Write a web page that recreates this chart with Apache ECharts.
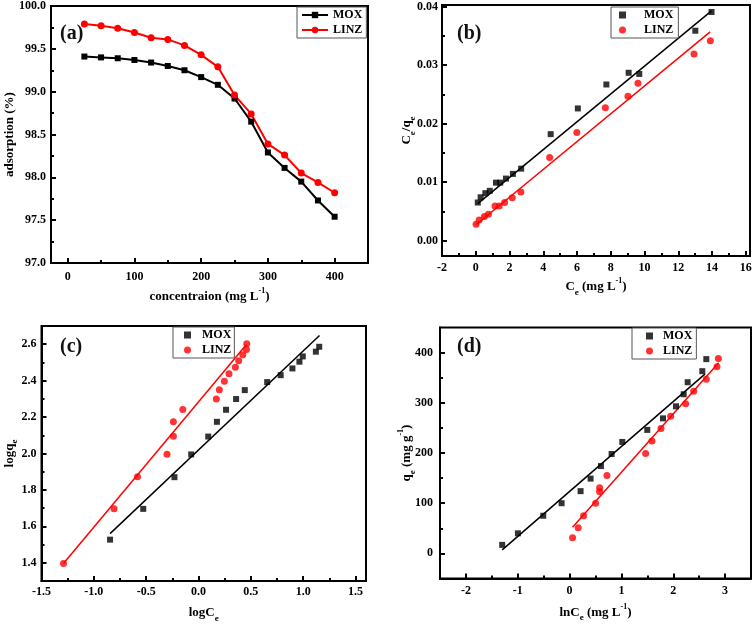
<!DOCTYPE html>
<html><head><meta charset="utf-8">
<script src="https://cdn.jsdelivr.net/npm/echarts@6/dist/echarts.min.js"></script>
<style>html,body{margin:0;padding:0;background:#fff}#c{width:756px;height:626px}</style>
</head><body><div id="c"></div>
<script>
// ---------- Panel (a): adsorption vs concentration ----------
const concA = [25, 50, 75, 100, 125, 150, 175, 200, 225, 250, 275, 300, 325, 350, 375, 400];
const moxAdsA = [99.41, 99.40, 99.39, 99.37, 99.34, 99.30, 99.25, 99.17, 99.08, 98.92, 98.65, 98.29, 98.11, 97.95, 97.73, 97.54];
const linzAdsA = [99.79, 99.77, 99.74, 99.69, 99.63, 99.61, 99.54, 99.43, 99.29, 98.96, 98.74, 98.39, 98.26, 98.05, 97.94, 97.82];

// ---------- Panel (b): Ce/qe vs Ce ----------
const ceMoxB = [0.12, 0.29, 0.57, 0.83, 1.20, 1.45, 1.79, 2.20, 2.69, 4.44, 6.05, 7.74, 9.06, 9.69, 13.01, 13.97];
const ceqeMoxB = [0.0065, 0.0074, 0.0081, 0.0085, 0.0099, 0.0099, 0.0106, 0.0114, 0.0123, 0.0182, 0.0226, 0.0267, 0.0287, 0.0285, 0.0359, 0.0391];
const ceLinzB = [0.02, 0.20, 0.51, 0.75, 1.14, 1.39, 1.71, 2.16, 2.67, 4.38, 5.99, 7.68, 9.02, 9.61, 12.93, 13.90];
const ceqeLinzB = [0.0028, 0.0035, 0.0041, 0.0045, 0.0059, 0.0059, 0.0065, 0.0073, 0.0083, 0.0142, 0.0185, 0.0227, 0.0247, 0.0269, 0.0319, 0.0342];
const fitMoxBx = [0.12, 13.97];
const fitMoxBy = [0.0063, 0.0393];
const fitLinzBx = [0.02, 13.89];
const fitLinzBy = [0.0027, 0.0357];

// ---------- Panel (c): logqe vs logCe ----------
const logCeMoxC = [-0.845, -0.528, -0.230, -0.070, 0.093, 0.176, 0.263, 0.359, 0.442, 0.656, 0.785, 0.897, 0.964, 0.996, 1.121, 1.153];
const logqeMoxC = [1.527, 1.696, 1.870, 1.995, 2.093, 2.174, 2.240, 2.299, 2.348, 2.392, 2.430, 2.467, 2.504, 2.533, 2.559, 2.586];
const logCeLinzC = [-1.290, -0.807, -0.583, -0.301, -0.240, -0.240, -0.150, 0.170, 0.199, 0.247, 0.291, 0.352, 0.384, 0.423, 0.458, 0.461];
const logqeLinzC = [1.396, 1.696, 1.872, 1.996, 2.095, 2.174, 2.242, 2.299, 2.350, 2.396, 2.438, 2.474, 2.509, 2.542, 2.571, 2.603];
const fitMoxCx = [-0.845, 1.156];
const fitMoxCy = [1.560, 2.648];
const fitLinzCx = [-1.290, 0.458];
const fitLinzCy = [1.396, 2.599];

// ---------- Panel (d): qe vs lnCe ----------
const lnCeMoxD = [-1.300, -0.997, -0.508, -0.154, 0.212, 0.405, 0.605, 0.811, 1.017, 1.499, 1.802, 2.053, 2.201, 2.278, 2.561, 2.638];
const qeMoxD = [17, 40, 75, 100, 124, 149, 174, 198, 222, 246, 269, 293, 317, 341, 363, 387];
const lnCeLinzD = [0.058, 0.167, 0.270, 0.502, 0.579, 0.579, 0.721, 1.467, 1.589, 1.763, 1.950, 2.239, 2.394, 2.638, 2.844, 2.870];
const qeLinzD = [31, 51, 75, 100, 123, 131, 155, 199, 224, 249, 273, 298, 323, 347, 372, 388];
const fitMoxDx = [-1.30, 2.61];
const fitMoxDy = [7, 357];
const fitLinzDx = [0.058, 2.876];
const fitLinzDy = [52, 380];

// ---------- Ticks ----------
const ticksAx = [0, 100, 200, 300, 400], minorAx = [50, 150, 250, 350];
const ticksAy = [97, 97.5, 98, 98.5, 99, 99.5, 100], minorAy = [97.25, 97.75, 98.25, 98.75, 99.25, 99.75];
const ticksBx = [-2, 0, 2, 4, 6, 8, 10, 12, 14, 16], minorBx = [-1, 1, 3, 5, 7, 9, 11, 13, 15];
const ticksBy = [0, 0.01, 0.02, 0.03, 0.04], minorBy = [0.005, 0.015, 0.025, 0.035];
const ticksCx = [-1.5, -1, -0.5, 0, 0.5, 1, 1.5], minorCx = [-1.25, -0.75, -0.25, 0.25, 0.75, 1.25];
const ticksCy = [1.4, 1.6, 1.8, 2.0, 2.2, 2.4, 2.6], minorCy = [1.5, 1.7, 1.9, 2.1, 2.3, 2.5];
const ticksDx = [-2, -1, 0, 1, 2, 3], minorDx = [-1.5, -0.5, 0.5, 1.5, 2.5];
const ticksDy = [0, 100, 200, 300, 400], minorDy = [50, 150, 250, 350];

const F = '"Liberation Serif", "Times New Roman", serif';
const rich = {
  b: {fontFamily: F, fontWeight: 'bold', fontSize: 13, lineHeight: 20, color: '#000'},
  s: {fontFamily: F, fontWeight: 'bold', fontSize: 9, lineHeight: 9, verticalAlign: 'bottom', color: '#000'},
  p: {fontFamily: F, fontWeight: 'bold', fontSize: 8, lineHeight: 8, verticalAlign: 'top', color: '#000'}
};

function zip(xs, ys) { return xs.map((x, i) => [x, ys[i]]); }

function axisPair(dim, gi, min, max, major, minor, fmt, name, nameGap, margin) {
  const main = {
    type: 'value', gridIndex: gi, min: min, max: max,
    position: dim === 'x' ? 'bottom' : 'left',
    axisLine: {show: true, onZero: false, lineStyle: {color: '#000', width: 2}},
    axisTick: {show: true, inside: true, length: 5, lineStyle: {color: '#000', width: 2}, customValues: major},
    axisLabel: {show: true, customValues: major, formatter: fmt, margin: margin,
      fontFamily: F, fontWeight: 'bold', fontSize: 12, color: '#000'},
    splitLine: {show: false},
    name: name, nameLocation: 'middle', nameGap: nameGap, nameMoveOverlap: false,
    nameTextStyle: {rich: rich}
  };
  const mn = {
    type: 'value', gridIndex: gi, min: min, max: max,
    position: dim === 'x' ? 'bottom' : 'left',
    axisLine: {show: false, onZero: false},
    axisTick: {show: true, inside: true, length: 3, lineStyle: {color: '#000', width: 2}, customValues: minor},
    axisLabel: {show: false},
    splitLine: {show: false}
  };
  return [main, mn];
}

const grids = [
  {left: 51, top: 5, width: 317, height: 258},
  {left: 442, top: 5, width: 308, height: 251},
  {left: 41.5, top: 326, width: 324.5, height: 255},
  {left: 440, top: 327.5, width: 311, height: 251}
].map(g => Object.assign(g, {show: true, borderColor: '#000', borderWidth: 2, backgroundColor: 'transparent'}));

const xAxes = [].concat(
  axisPair('x', 0, -25, 450, ticksAx, minorAx, v => String(v), '{b|concentraion (mg L}{p|-1}{b|)}', 24, 8),
  axisPair('x', 1, -2, 16.25, ticksBx, minorBx, v => String(v), '{b|C}{s|e}{b| (mg L}{p|-1}{b|)}', 21, 6),
  axisPair('x', 2, -1.5, 1.6, ticksCx, minorCx, v => v.toFixed(1), '{b|logC}{s|e}', 22, 5),
  axisPair('x', 3, -2.5, 3.5, ticksDx, minorDx, v => String(v), '{b|lnC}{s|e}{b| (mg L}{p|-1}{b|)}', 24, 6)
);
const yAxes = [].concat(
  axisPair('y', 0, 97, 100, ticksAy, minorAy, v => v.toFixed(1), '{b|adsorption (%)}', 31, 5),
  axisPair('y', 1, -0.00265, 0.0403, ticksBy, minorBy, v => v.toFixed(2), '{b|C}{s|e}{b|/q}{s|e}', 25, 4),
  axisPair('y', 2, 1.3, 2.7, ticksCy, minorCy, v => v.toFixed(1), '{b|logq}{s|e}', 22, 5),
  axisPair('y', 3, -50, 450, ticksDy, minorDy, v => String(v), '{b|q}{s|e}{b| (mg g}{p|-1}{b|)}', 23, 7)
);

const RED = '#ff0000', BLK = '#000000';
function scatter(name, p, xs, ys, sym, color) {
  return {type: 'scatter', name: name, xAxisIndex: 2 * p, yAxisIndex: 2 * p, data: zip(xs, ys),
    symbol: sym, symbolSize: sym === 'rect' ? 6 : 7, itemStyle: {color: color}, z: 3};
}
function fit(p, xs, ys, color) {
  return {type: 'line', xAxisIndex: 2 * p, yAxisIndex: 2 * p, data: zip(xs, ys), showSymbol: false,
    symbol: 'none', lineStyle: {color: color, width: 1.5}, silent: true, z: 2};
}

const series = [
  {type: 'line', name: 'MOX_a', xAxisIndex: 0, yAxisIndex: 0, data: zip(concA, moxAdsA),
    symbol: 'rect', symbolSize: 6, showAllSymbol: true, itemStyle: {color: BLK}, lineStyle: {color: BLK, width: 2}},
  {type: 'line', name: 'LINZ_a', xAxisIndex: 0, yAxisIndex: 0, data: zip(concA, linzAdsA),
    symbol: 'circle', symbolSize: 7, showAllSymbol: true, itemStyle: {color: RED}, lineStyle: {color: RED, width: 2}},
  fit(1, fitMoxBx, fitMoxBy, BLK), fit(1, fitLinzBx, fitLinzBy, RED),
  scatter('MOX_b', 1, ceMoxB, ceqeMoxB, 'rect', BLK),
  scatter('LINZ_b', 1, ceLinzB, ceqeLinzB, 'circle', RED),
  fit(2, fitMoxCx, fitMoxCy, BLK), fit(2, fitLinzCx, fitLinzCy, RED),
  scatter('MOX_c', 2, logCeMoxC, logqeMoxC, 'rect', BLK),
  scatter('LINZ_c', 2, logCeLinzC, logqeLinzC, 'circle', RED),
  fit(3, fitMoxDx, fitMoxDy, BLK), fit(3, fitLinzDx, fitLinzDy, RED),
  scatter('MOX_d', 3, lnCeMoxD, qeMoxD, 'rect', BLK),
  scatter('LINZ_d', 3, lnCeLinzD, qeLinzD, 'circle', RED)
];

const legendText = {fontFamily: F, fontWeight: 'bold', fontSize: 12, color: '#000'};
function lineLegend(left, top, suffix) {
  return {
    left: left, top: top, orient: 'vertical',
    data: ['MOX_' + suffix, 'LINZ_' + suffix],
    formatter: n => n.split('_')[0],
    itemWidth: 26, itemHeight: 8, itemGap: 3,
    borderColor: '#555', borderWidth: 1, borderRadius: 0, padding: [2, 4, 2, 4],
    backgroundColor: '#fff', textStyle: legendText, selectedMode: false
  };
}
function dotLegend(left, top, suffix, padL, textPadL, padR) {
  return {
    left: left, top: top, orient: 'vertical',
    data: ['MOX_' + suffix, 'LINZ_' + suffix],
    formatter: n => n.split('_')[0],
    itemWidth: 7, itemHeight: 7, itemGap: 3,
    borderColor: '#555', borderWidth: 1, borderRadius: 0, padding: [2, padR, 2, padL],
    backgroundColor: '#fff',
    textStyle: Object.assign({padding: [0, 0, 0, textPadL]}, legendText), selectedMode: false
  };
}

const panelLabel = (t, x, y) => ({type: 'text', left: x, top: y,
  style: {text: t, fontFamily: F, fontWeight: 'bold', fontSize: 20, fill: '#111'}});

const option = {
  animation: false,
  backgroundColor: '#fff',
  grid: grids,
  xAxis: xAxes,
  yAxis: yAxes,
  legend: [lineLegend(297, 7, 'a'), dotLegend(611, 7, 'b', 8, 13, 5), dotLegend(173, 327, 'c', 11, 6, 3), dotLegend(632, 328, 'd', 14, 5, 4)],
  series: series,
  graphic: [panelLabel('(a)', 60, 24), panelLabel('(b)', 457, 24), panelLabel('(c)', 60, 337), panelLabel('(d)', 457, 337)]
};

const chart = echarts.init(document.getElementById('c'), null, {renderer: 'canvas'});
chart.setOption(option);
</script>
</body></html>
